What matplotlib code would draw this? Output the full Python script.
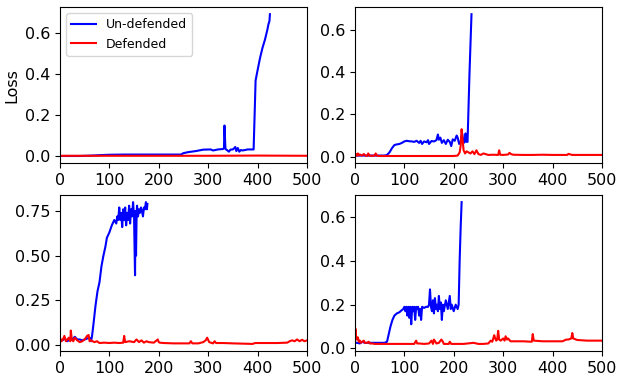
import numpy as np
from matplotlib import pyplot as plt

# panel 1 (top left)
u1_x = [0, 20, 40, 65, 80, 100, 130, 160, 200, 245, 250, 260, 275, 290, 305, 310, 320, 330, 332, 333, 335, 338, 342, 345, 350, 355, 357, 360, 363, 366, 370, 380, 392, 394, 396, 400, 405, 410, 415, 418, 420, 422, 424, 425]
u1_y = [0.001, 0.001, 0.001, 0.003, 0.005, 0.007, 0.008, 0.008, 0.008, 0.008, 0.015, 0.02, 0.025, 0.032, 0.033, 0.028, 0.033, 0.035, 0.04, 0.15, 0.035, 0.03, 0.022, 0.032, 0.033, 0.045, 0.025, 0.04, 0.022, 0.03, 0.028, 0.033, 0.033, 0.2, 0.37, 0.42, 0.48, 0.53, 0.57, 0.6, 0.62, 0.645, 0.66, 0.694]
d1_x = [0, 100, 200, 300, 400, 500]
d1_y = [0.002, 0.002, 0.002, 0.002, 0.003, 0.002]

# panel 2 (top right)
u2_x = [0, 20, 40, 60, 65, 70, 75, 80, 85, 90, 95, 100, 105, 110, 115, 120, 125, 130, 133, 136, 140, 145, 148, 150, 155, 160, 165, 168, 170, 173, 176, 180, 184, 188, 192, 195, 198, 202, 206, 208, 211, 214, 217, 220, 222, 224, 226, 228, 232, 236]
u2_y = [0.005, 0.005, 0.005, 0.005, 0.008, 0.02, 0.04, 0.055, 0.058, 0.06, 0.065, 0.072, 0.075, 0.073, 0.072, 0.07, 0.075, 0.065, 0.075, 0.06, 0.072, 0.068, 0.078, 0.06, 0.074, 0.072, 0.078, 0.105, 0.08, 0.09, 0.065, 0.078, 0.06, 0.08, 0.07, 0.05, 0.082, 0.075, 0.1, 0.09, 0.06, 0.07, 0.11, 0.065, 0.068, 0.11, 0.07, 0.07, 0.4, 0.675]
d2_x = [0, 2, 4, 6, 8, 10, 14, 18, 22, 25, 27, 30, 35, 40, 42, 45, 50, 60, 80, 100, 150, 200, 208, 212, 214, 216, 218, 220, 223, 226, 230, 234, 238, 242, 246, 250, 255, 260, 270, 280, 290, 292, 294, 300, 310, 313, 316, 320, 340, 360, 380, 400, 420, 430, 432, 440, 460, 480, 500]
d2_y = [0.005, 0.012, 0.004, 0.015, 0.006, 0.01, 0.005, 0.012, 0.004, 0.004, 0.015, 0.004, 0.004, 0.005, 0.015, 0.004, 0.003, 0.003, 0.003, 0.003, 0.003, 0.003, 0.005, 0.02, 0.05, 0.13, 0.08, 0.03, 0.015, 0.025, 0.02, 0.015, 0.025, 0.012, 0.03, 0.012, 0.008, 0.015, 0.008, 0.009, 0.008, 0.03, 0.009, 0.008, 0.01, 0.018, 0.012, 0.009, 0.008, 0.008, 0.009, 0.008, 0.008, 0.008, 0.013, 0.008, 0.008, 0.008, 0.008]

# panel 3 (bottom left)
u3_x = [0, 5, 10, 15, 20, 25, 30, 35, 40, 45, 50, 55, 60, 63, 65, 68, 72, 76, 80, 84, 88, 92, 95, 100, 105, 110, 114, 116, 118, 120, 122, 124, 126, 128, 130, 132, 134, 136, 138, 140, 142, 144, 146, 148, 150, 151, 152, 153, 154, 155, 156, 158, 160, 162, 164, 166, 168, 170, 172, 174, 176, 177]
u3_y = [0.03, 0.025, 0.035, 0.02, 0.03, 0.03, 0.045, 0.03, 0.03, 0.025, 0.03, 0.035, 0.04, 0.02, 0.05, 0.12, 0.22, 0.3, 0.35, 0.44, 0.5, 0.55, 0.6, 0.63, 0.67, 0.7, 0.68, 0.72, 0.7, 0.77, 0.7, 0.74, 0.66, 0.76, 0.7, 0.77, 0.67, 0.74, 0.7, 0.78, 0.68, 0.76, 0.72, 0.8, 0.72, 0.55, 0.39, 0.75, 0.5, 0.7, 0.78, 0.72, 0.76, 0.74, 0.77, 0.75, 0.72, 0.77, 0.76, 0.8, 0.76, 0.79]
d3_x = [0, 3, 6, 9, 12, 15, 18, 21, 22, 24, 27, 30, 35, 40, 45, 50, 55, 58, 60, 63, 66, 70, 75, 80, 90, 100, 110, 120, 128, 130, 132, 140, 150, 155, 160, 165, 170, 175, 180, 190, 198, 200, 202, 210, 230, 250, 262, 265, 268, 280, 290, 295, 298, 302, 310, 313, 316, 330, 350, 390, 395, 400, 420, 440, 460, 465, 470, 475, 480, 485, 490, 495, 500]
d3_y = [0.04, 0.02, 0.03, 0.05, 0.02, 0.03, 0.04, 0.02, 0.08, 0.03, 0.02, 0.04, 0.025, 0.015, 0.02, 0.03, 0.05, 0.055, 0.02, 0.025, 0.02, 0.015, 0.02, 0.01, 0.012, 0.01, 0.012, 0.01, 0.012, 0.05, 0.015, 0.02, 0.015, 0.03, 0.015, 0.025, 0.012, 0.02, 0.015, 0.012, 0.03, 0.015, 0.012, 0.01, 0.008, 0.008, 0.008, 0.02, 0.008, 0.008, 0.015, 0.025, 0.04, 0.015, 0.008, 0.02, 0.01, 0.01, 0.008, 0.005, 0.01, 0.01, 0.01, 0.01, 0.012, 0.02, 0.025, 0.02, 0.03, 0.02, 0.028, 0.02, 0.025]

# panel 4 (bottom right)
u4_x = [0, 5, 10, 15, 20, 25, 30, 40, 50, 60, 65, 68, 72, 76, 80, 85, 90, 95, 98, 100, 102, 104, 106, 108, 110, 112, 114, 116, 118, 120, 122, 124, 126, 128, 130, 132, 134, 136, 140, 144, 148, 150, 152, 154, 156, 158, 160, 162, 164, 166, 168, 170, 172, 174, 176, 178, 180, 184, 188, 192, 194, 196, 200, 204, 208, 210, 212, 214, 216]
u4_y = [0.025, 0.025, 0.022, 0.03, 0.025, 0.025, 0.025, 0.025, 0.025, 0.025, 0.03, 0.06, 0.1, 0.13, 0.15, 0.16, 0.165, 0.175, 0.18, 0.19, 0.17, 0.19, 0.15, 0.19, 0.14, 0.19, 0.11, 0.19, 0.17, 0.19, 0.13, 0.19, 0.18, 0.19, 0.15, 0.18, 0.13, 0.19, 0.185, 0.19, 0.19, 0.2, 0.27, 0.19, 0.17, 0.22, 0.16, 0.23, 0.18, 0.2, 0.17, 0.24, 0.18, 0.21, 0.13, 0.2, 0.17, 0.22, 0.18, 0.24, 0.18, 0.2, 0.17, 0.2, 0.18, 0.2, 0.4, 0.55, 0.67]
d4_x = [0, 1, 2, 4, 6, 8, 10, 12, 15, 18, 20, 25, 28, 30, 35, 40, 60, 80, 100, 120, 124, 126, 130, 140, 150, 155, 158, 160, 165, 170, 175, 178, 180, 190, 192, 195, 200, 220, 240, 250, 260, 270, 275, 278, 282, 284, 286, 288, 290, 292, 295, 300, 303, 305, 308, 310, 315, 320, 340, 358, 360, 362, 380, 400, 420, 428, 432, 438, 440, 442, 450, 470, 490, 500]
d4_y = [0.05, 0.09, 0.06, 0.04, 0.05, 0.03, 0.035, 0.025, 0.03, 0.035, 0.025, 0.025, 0.03, 0.022, 0.022, 0.02, 0.02, 0.02, 0.02, 0.02, 0.035, 0.022, 0.022, 0.02, 0.022, 0.035, 0.02, 0.04, 0.022, 0.025, 0.04, 0.03, 0.02, 0.02, 0.03, 0.02, 0.02, 0.02, 0.025, 0.02, 0.02, 0.022, 0.035, 0.03, 0.06, 0.045, 0.035, 0.04, 0.08, 0.04, 0.035, 0.045, 0.035, 0.055, 0.04, 0.045, 0.032, 0.032, 0.032, 0.03, 0.065, 0.035, 0.032, 0.032, 0.032, 0.04, 0.04, 0.045, 0.07, 0.045, 0.038, 0.035, 0.035, 0.035]

panels = [(u1_x, u1_y, d1_x, d1_y), (u2_x, u2_y, d2_x, d2_y),
          (u3_x, u3_y, d3_x, d3_y), (u4_x, u4_y, d4_x, d4_y)]

fig, axes = plt.subplots(2, 2, figsize=(6.18, 3.75), dpi=100)
plt.subplots_adjust(left=0.097, right=0.974, top=0.981, bottom=0.064, wspace=0.194, hspace=0.205)

for i, (ux, uy, dx, dy) in enumerate(panels):
    ax = axes.flat[i]
    ax.plot(ux, uy, color="blue", linewidth=1.5, label="Un-defended")
    ax.plot(dx, dy, color="red", linewidth=1.5, label="Defended")
    ax.set_xlim([0, 500])
    ax.set_xticks([0, 100, 200, 300, 400, 500])
    ax.tick_params(labelsize=11.5)
    if i == 2:
        ax.set_yticks([0.0, 0.25, 0.5, 0.75])
    else:
        ax.set_yticks([0.0, 0.2, 0.4, 0.6])

axes[0, 0].set_ylabel("Loss", fontsize=11.5)
axes[0, 0].legend(loc="upper left", fontsize=9)

plt.savefig("out.png")
